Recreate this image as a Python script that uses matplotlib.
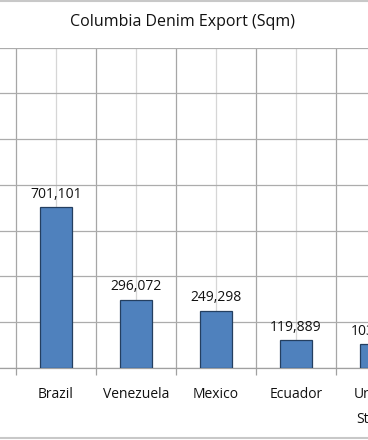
import matplotlib

matplotlib.use("Agg")

import matplotlib.pyplot as plt
from matplotlib.lines import Line2D
import numpy as np

countries = ["Brazil", "Venezuela", "Mexico", "Ecuador", "United\nStates"]
export_sqm = [701101, 296072, 249298, 119889, 103215]
y_ticks = [0, 200000, 400000, 600000, 800000, 1000000, 1200000, 1400000]

plt.rcParams["font.family"] = ["Open Sans", "DejaVu Sans"]

W, H = 368, 440
fig = plt.figure(figsize=(W / 100, H / 100), dpi=100)

# plot area runs past both edges of the picture (cropped chart)
x_lo, x_hi = -0.7, 4.5
px_per_cat = 80
ax = fig.add_axes([0, 72.3 / H, (x_hi - x_lo) * px_per_cat / W, 320 / H])

x = np.arange(len(countries))
bars = ax.bar(x, export_sqm, width=0.39, color="#4f81bd", edgecolor="#243f60", linewidth=0.9, zorder=3)

for xi, val in zip(x, export_sqm):
    ax.annotate(f"{val:,}", (xi, val), xytext=(0, 4), textcoords="offset points",
                ha="center", va="bottom", fontsize=10, color="#111111")

ax.set_xlim(x_lo, x_hi)
ax.set_ylim(y_ticks[0], y_ticks[-1])
ax.set_yticks(y_ticks)
ax.set_yticklabels([])
ax.tick_params(axis="y", length=0)

ax.set_xticks(x)
ax.set_xticklabels(countries, fontsize=10, color="#111111", linespacing=1.9)
ax.tick_params(axis="x", which="major", length=0, pad=14)
ax.set_xticks(np.arange(-0.5, len(countries) + 0.5), minor=True)
ax.tick_params(axis="x", which="minor", length=5, width=0.9, color="#a0a0a0", direction="out")

ax.grid(axis="y", color="#acacac", linewidth=0.9, zorder=0)
ax.grid(axis="x", which="minor", color="#a6a6a6", linewidth=0.9, zorder=0)
ax.grid(axis="x", which="major", color="#d6d6d6", linewidth=0.9, zorder=0)

for side in ("left", "right", "top"):
    ax.spines[side].set_visible(False)
ax.spines["bottom"].set_color("#a0a0a0")
ax.spines["bottom"].set_linewidth(0.9)

fig.text(183 / W, 1 - 22 / H, "Columbia Denim Export (Sqm)", ha="center", va="center",
         fontsize=11.5, color="#111111")

# chart frame edges visible in the crop
fig.add_artist(Line2D([0, 1], [1 - 1.2 / H] * 2, color="#c8c8c8", linewidth=1.5))
fig.add_artist(Line2D([0, 1], [1 - 438.3 / H] * 2, color="#c8c8c8", linewidth=1.5))

fig.savefig("out.png", dpi=100)
